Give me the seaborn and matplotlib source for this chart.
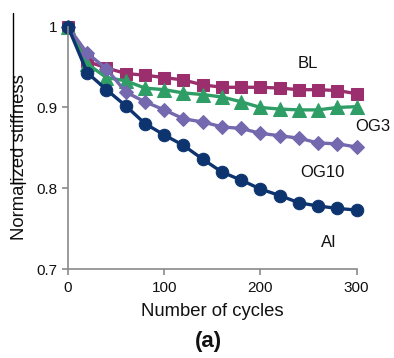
import numpy as np
import pandas as pd
import matplotlib
matplotlib.use("Agg")
import matplotlib.pyplot as plt
from matplotlib.lines import Line2D
import seaborn as sns

cycles = [0, 20, 40, 60, 80, 100, 120, 140, 160, 180, 200, 220, 240, 260, 280, 300]
bl   = [1.0, 0.957, 0.949, 0.942, 0.940, 0.937, 0.934, 0.928, 0.925, 0.925, 0.925, 0.924, 0.922, 0.922, 0.921, 0.917]
og3  = [1.0, 0.954, 0.937, 0.933, 0.924, 0.922, 0.918, 0.916, 0.913, 0.907, 0.900, 0.898, 0.897, 0.897, 0.900, 0.901]
og10 = [1.0, 0.967, 0.948, 0.919, 0.907, 0.897, 0.886, 0.882, 0.876, 0.874, 0.868, 0.865, 0.862, 0.856, 0.855, 0.851]
ai   = [1.0, 0.943, 0.922, 0.902, 0.880, 0.866, 0.853, 0.836, 0.820, 0.810, 0.799, 0.791, 0.782, 0.778, 0.775, 0.773]

series_names = ["BL", "OG3", "OG10", "AI"]
series_vals = [bl, og3, og10, ai]
colors = ["#9B2F6E", "#2E9E66", "#7468AE", "#0E3470"]
markers = ["s", "^", "D", "o"]
msizes = [8.5, 9.5, 7.5, 9]

label_pos = {"BL": (249, 0.955), "OG3": (317, 0.876), "OG10": (264, 0.819), "AI": (271, 0.733)}

df = pd.concat([pd.DataFrame({"cycles": cycles, "stiffness": v, "series": n})
                for n, v in zip(series_names, series_vals)], ignore_index=True)

sns.set_style("white")
plt.rcParams["font.family"] = ["Liberation Sans", "DejaVu Sans"]

fig = plt.figure(figsize=(3.94, 3.58), dpi=100)
ax = fig.add_axes([68/394, 1-269/358, (356.7-68)/394, (269-26.7)/358])

for n, c, m, ms in zip(series_names, colors, markers, msizes):
    sub = df[df["series"] == n]
    sns.lineplot(data=sub, x="cycles", y="stiffness", ax=ax, color=c, marker=m,
                 markersize=ms, markeredgecolor=c, linewidth=2.4, legend=False,
                 clip_on=False)

for n, (x, y) in label_pos.items():
    ax.text(x, y, n, ha="center", va="center", fontsize=12, color="#111111")

ax.set_xlim(0, 300)
ax.set_ylim(0.7, 1.0)
ax.set_xticks([0, 100, 200, 300])
ax.set_yticks([0.7, 0.8, 0.9, 1.0])
ax.set_yticklabels(["0.7", "0.8", "0.9", "1"])
for s in ["top", "right"]:
    ax.spines[s].set_visible(False)
for s in ["left", "bottom"]:
    ax.spines[s].set_color("#8a8a8a")
    ax.spines[s].set_linewidth(1.2)
ax.tick_params(axis="x", pad=5)
ax.tick_params(axis="both", which="both", direction="out", length=4, width=1.2,
               color="#8a8a8a", labelsize=11, labelcolor="#111111",
               bottom=True, left=True)
ax.set_xlabel("Number of cycles", fontsize=13.3, color="#111111")
ax.xaxis.set_label_coords(0.5, -(311.5-269)/(269-26.7), transform=ax.transAxes)
ax.xaxis.label.set_va("center")
ax.set_ylabel("Normalized stiffness", fontsize=13.3, color="#111111")
ax.yaxis.set_label_coords(-(68-19)/(356.7-68), (269-157.5)/(269-26.7),
                          transform=ax.transAxes)
ax.yaxis.label.set_va("center")

fig.text(0.528, 1-341/358, "(a)", ha="center", va="center", fontsize=16,
         fontweight="bold", color="#111111")

# crop artifact line at left
fig.add_artist(Line2D([12.7/394, 12.7/394], [1-13/358, 1-183/358],
                      transform=fig.transFigure, color="black", linewidth=1))
fig.add_artist(Line2D([12.7/394, 25/394], [1-183/358, 1-183/358],
                      transform=fig.transFigure, color="black", linewidth=1))

fig.savefig("out.png", dpi=100)
